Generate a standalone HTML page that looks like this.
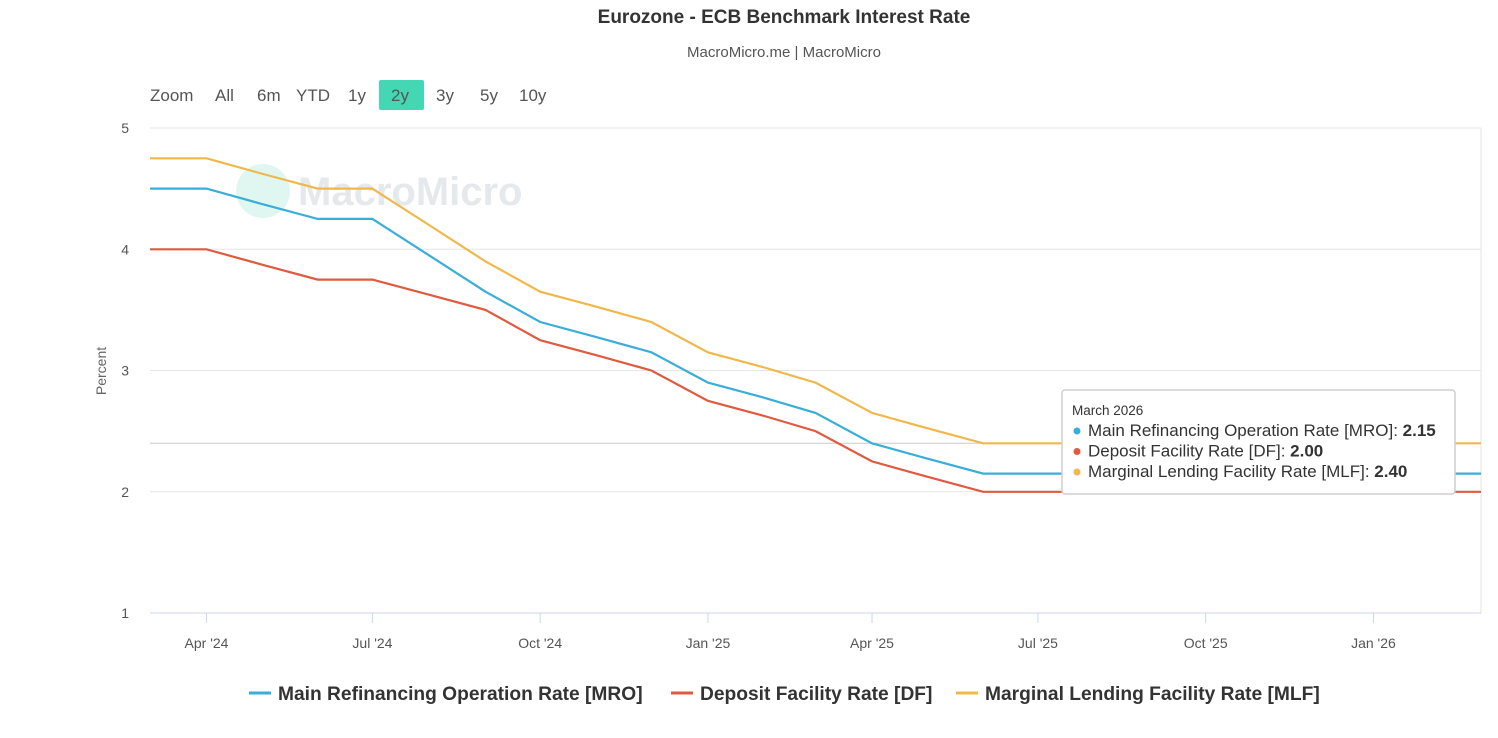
<!DOCTYPE html>
<html><head><meta charset="utf-8">
<style>
body{margin:0;background:#fff;font-family:"Liberation Sans",sans-serif;}
#wrap{position:relative;width:1498px;height:738px;overflow:hidden;background:#fff}
svg text{font-family:"Liberation Sans",sans-serif}
</style></head>
<body>
<div id="wrap">
<svg id="chart" width="1498" height="738"></svg>
</div>
<script>
const months = ["2024-03","2024-04","2024-05","2024-06","2024-07","2024-08","2024-09","2024-10","2024-11","2024-12","2025-01","2025-02","2025-03","2025-04","2025-05","2025-06","2025-07","2025-08","2025-09","2025-10","2025-11","2025-12","2026-01","2026-02","2026-03"];
const mro = [4.5,4.5,4.375,4.25,4.25,3.95,3.65,3.4,3.275,3.15,2.9,2.775,2.65,2.4,2.275,2.15,2.15,2.15,2.15,2.15,2.15,2.15,2.15,2.15,2.15];
const df = [4.0,4.0,3.875,3.75,3.75,3.625,3.5,3.25,3.125,3.0,2.75,2.625,2.5,2.25,2.125,2.0,2.0,2.0,2.0,2.0,2.0,2.0,2.0,2.0,2.0];
const mlf = [4.75,4.75,4.625,4.5,4.5,4.2,3.9,3.65,3.525,3.4,3.15,3.025,2.9,2.65,2.525,2.4,2.4,2.4,2.4,2.4,2.4,2.4,2.4,2.4,2.4];
const yTicks = [1,2,3,4,5];
const xTicks = ["2024-04","2024-07","2024-10","2025-01","2025-04","2025-07","2025-10","2026-01"];
const xTickLabels = ["Apr '24","Jul '24","Oct '24","Jan '25","Apr '25","Jul '25","Oct '25","Jan '26"];
const buttons = ["Zoom","All","6m","YTD","1y","2y","3y","5y","10y"];

const NS="http://www.w3.org/2000/svg";
const svg=document.getElementById('chart');
const L=150,R=1481,T=128,B=613;
const t0=Date.UTC(2024,2,1), t1=Date.UTC(2026,2,1);
function tm(s){const p=s.split('-');return Date.UTC(+p[0],+p[1]-1,1);}
function xs(s){return L+(tm(s)-t0)/(t1-t0)*(R-L);}
function ys(v){return B-(v-1)/4*(B-T);}
function el(tag,a,txt){const e=document.createElementNS(NS,tag);for(const k in a)e.setAttribute(k,a[k]);if(txt!==undefined)e.textContent=txt;svg.appendChild(e);return e;}

let e;
e=el('text',{x:784,y:23,'text-anchor':'middle','font-size':19,'font-weight':'bold',fill:'#333'},'Eurozone - ECB Benchmark Interest Rate');

e=el('text',{x:784,y:57,'text-anchor':'middle','font-size':15,fill:'#555'},'MacroMicro.me | MacroMicro');


const bx=[150,215,257,296,348,380,436,480,519];
buttons.forEach((b,i)=>{
  if(b==='2y'){e=el('rect',{x:379,y:80,width:45,height:30,rx:2,fill:'#45d6b3'});}
  e=el('text',{x:b==='2y'?391:bx[i],y:101,'font-size':17,fill:'#555'},b);
  
  
});

yTicks.forEach(v=>{
  e=el('line',{x1:L,x2:R,y1:ys(v),y2:ys(v),stroke:'#e6e6e6','stroke-width':1});
  
  e=el('text',{x:129,y:ys(v)+5,'text-anchor':'end','font-size':14,fill:'#555'},String(v));
  
});
e=el('line',{x1:R,x2:R,y1:T,y2:B,stroke:'#e6e6e6'});
e=el('line',{x1:L,x2:R,y1:B,y2:B,stroke:'#ccd6eb'});
e=el('text',{x:106,y:371,'text-anchor':'middle','font-size':14,fill:'#666',transform:'rotate(-90 106 371)'},'Percent');


xTicks.forEach((s,i)=>{
  const x=xs(s);
  e=el('line',{x1:x,x2:x,y1:B,y2:B+10,stroke:'#ccd6eb'});
  e=el('text',{x:x,y:648,'text-anchor':'middle','font-size':14,fill:'#555'},xTickLabels[i]);
  
});

e=el('circle',{cx:263,cy:191,r:27,fill:'#d8f5ee',opacity:0.8});
e=el('text',{x:298,y:205,'font-size':40,'font-weight':'bold',fill:'#e6e9ec'},'MacroMicro');

e=el('line',{x1:L,x2:R,y1:ys(mlf[mlf.length-1]),y2:ys(mlf[mlf.length-1]),stroke:'#cccccc','stroke-width':1});


const series=[[mro,'#3aaed8','mro-line'],[df,'#e05a3f','df-line'],[mlf,'#f0b84a','mlf-line']];
series.forEach(([d,c,n])=>{
  const pts=d.map((v,i)=>xs(months[i]).toFixed(1)+','+ys(v).toFixed(1)).join(' ');
  e=el('polyline',{points:pts,fill:'none',stroke:c,'stroke-width':2.2});
  
});

const g=document.createElementNS(NS,'g');svg.appendChild(g);

function tel(tag,a,txt){const x=document.createElementNS(NS,tag);for(const k in a)x.setAttribute(k,a[k]);if(txt!==undefined)x.textContent=txt;g.appendChild(x);return x;}
tel('rect',{x:1062,y:390,width:393,height:104,rx:3,fill:'#fff',stroke:'#cfcfcf','stroke-width':1.5});
tel('text',{x:1072,y:415,'font-size':13.5,fill:'#333'},'March 2026');
const tt=[['#3aaed8','Main Refinancing Operation Rate [MRO]: ',mro],['#e05a3f','Deposit Facility Rate [DF]: ',df],['#f0b84a','Marginal Lending Facility Rate [MLF]: ',mlf]];
tt.forEach(([c,lbl,d],i)=>{
  const y=436+i*20.5;
  tel('circle',{cx:1077,cy:y-5,r:3.5,fill:c});
  const t=tel('text',{x:1088,y:y,'font-size':17,fill:'#333'},lbl);
  const b=document.createElementNS(NS,'tspan');b.setAttribute('font-weight','bold');b.textContent=d[d.length-1].toFixed(2);t.appendChild(b);
});

const leg=[[249,'#3aaed8','Main Refinancing Operation Rate [MRO]'],[671,'#e05a3f','Deposit Facility Rate [DF]'],[956,'#f0b84a','Marginal Lending Facility Rate [MLF]']];
leg.forEach(([x,c,t])=>{
  e=el('line',{x1:x,x2:x+22,y1:693,y2:693,stroke:c,'stroke-width':3});
  e=el('text',{x:x+29,y:700,'font-size':19.2,'font-weight':'bold',fill:'#333'},t);
});
</script>
</body></html>
